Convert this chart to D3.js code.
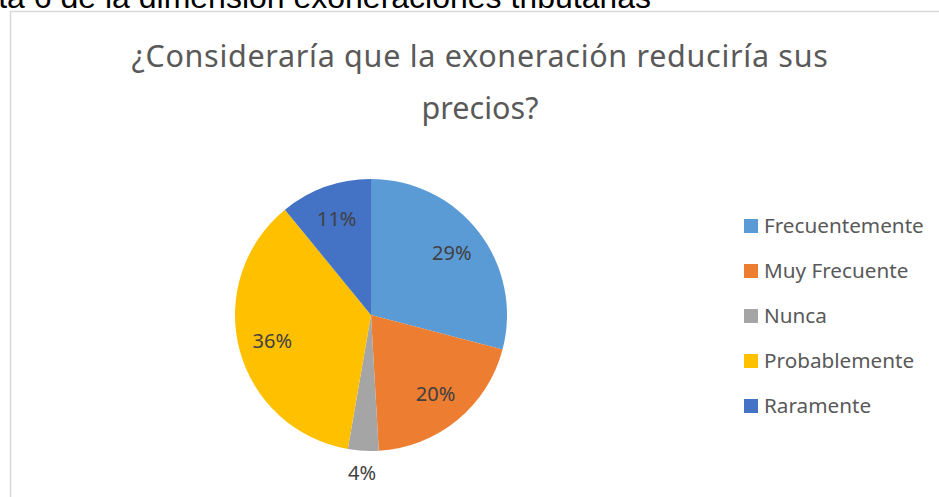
<!DOCTYPE html>
<html>
<head>
<meta charset="utf-8">
<script src="https://cdn.jsdelivr.net/npm/d3@7"></script>
<style>
  body { margin: 0; background: #fff; }
  svg { display: block; }
</style>
</head>
<body>
<div id="chart"></div>
<script>
// data
var categories = ["Frecuentemente", "Muy Frecuente", "Nunca", "Probablemente", "Raramente"];
var counts = [16, 11, 2, 20, 6];
var sliceColors = ["#5B9BD5", "#ED7D31", "#A5A5A5", "#FFC000", "#4472C4"];
var titleLines = ["¿Consideraría que la exoneración reduciría sus", "precios?"];
var headerText = "Pregunta 6 de la dimensión exoneraciones tributarias";

var width = 939, height = 497;
var cx = 371, cy = 315, radius = 136;

var svg = d3.select("#chart").append("svg")
    .attr("width", width)
    .attr("height", height);

svg.append("rect")
    .attr("width", width).attr("height", height)
    .attr("fill", "#fff");

// document text above the chart (cut off at the top)
svg.append("text")
    .attr("x", 651).attr("y", 7.5)
    .attr("text-anchor", "end")
    .attr("font-family", "Liberation Sans, Arial, sans-serif")
    .attr("font-size", 32)
    .attr("fill", "#000")
    .text(headerText);

// chart area border
svg.append("rect")
    .attr("x", 10.5).attr("y", 11.5)
    .attr("width", width).attr("height", height)
    .attr("fill", "#fff")
    .attr("stroke", "#d9d9d9")
    .attr("stroke-width", 1.5);

// title
svg.append("g").selectAll("text")
    .data(titleLines)
    .enter().append("text")
    .attr("x", 480)
    .attr("y", function(d, i) { return 67 + i * 52; })
    .attr("text-anchor", "middle")
    .attr("font-family", "Noto Sans, Open Sans, sans-serif")
    .attr("font-size", 30.5)
    .attr("letter-spacing", function(d, i) { return i === 0 ? 0.7 : 0; })
    .attr("fill", "#595959")
    .text(function(d) { return d; });

var color = d3.scaleOrdinal().domain(categories).range(sliceColors);
var total = d3.sum(counts);
var pct = d3.format(".0%");

var pie = d3.pie().sort(null).value(function(d) { return d.value; });
var arcs = pie(categories.map(function(c, i) { return {name: c, value: counts[i]}; }));

var arc = d3.arc().innerRadius(0).outerRadius(radius);
var labelArc = d3.arc().innerRadius(radius * 0.75).outerRadius(radius * 0.75);
var outerLabelArc = d3.arc().innerRadius(radius + 22).outerRadius(radius + 22);

var g = svg.append("g")
    .attr("transform", "translate(" + cx + "," + cy + ")");

g.selectAll(".slice")
    .data(arcs)
    .enter().append("path")
    .attr("class", "slice")
    .attr("d", arc)
    .attr("fill", function(d) { return color(d.data.name); });

// percentage labels; small slices go outside
g.selectAll(".lbl")
    .data(arcs)
    .enter().append("text")
    .attr("class", "lbl")
    .attr("transform", function(d) {
        var a = d.data.value / total < 0.05 ? outerLabelArc : labelArc;
        return "translate(" + a.centroid(d) + ")";
    })
    .attr("text-anchor", "middle")
    .attr("dy", "0.35em")
    .attr("font-family", "Noto Sans, Open Sans, sans-serif")
    .attr("font-size", 20)
    .attr("fill", "#404040")
    .text(function(d) { return pct(d.data.value / total); });

// legend
var legend = svg.append("g").selectAll("g")
    .data(categories)
    .enter().append("g")
    .attr("transform", function(d, i) { return "translate(744," + (226 + i * 45) + ")"; });

legend.append("rect")
    .attr("x", 0).attr("y", -7)
    .attr("width", 14).attr("height", 14)
    .attr("fill", function(d) { return color(d); });

legend.append("text")
    .attr("x", 20).attr("y", 0)
    .attr("dy", "0.35em")
    .attr("font-family", "Noto Sans, Open Sans, sans-serif")
    .attr("font-size", 20.7)
    .attr("fill", "#595959")
    .text(function(d) { return d; });
</script>
</body>
</html>
